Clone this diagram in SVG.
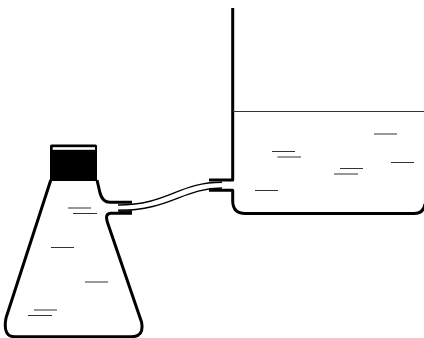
<svg xmlns="http://www.w3.org/2000/svg" width="424" height="338" viewBox="0 0 424 338">
<style>
.g{fill:none;stroke:#000;stroke-width:3;stroke-linejoin:round;stroke-linecap:butt}
.t{fill:none;stroke:#000;stroke-width:1.4}
.h{fill:none;stroke:#111;stroke-width:2.6}
.w{fill:none;stroke:#333;stroke-width:1.1}
</style>
<rect width="424" height="338" fill="#fff"/>
<g id="flask">
<path class="g" d="M50.800 180L6 318Q2.500 336.800 15 336.800L131 336.800Q144.500 336.800 141.500 322L108 224Q104 213.300 111 213.300L132 213.300"/>
<path class="g" d="M97 180L100 193Q102.500 202.300 110 202.300L132 202.300"/>
</g>
<g id="stopper">
<rect x="50" y="144.500" width="47" height="36.500" rx="1.500" fill="#000"/>
<rect x="52.700" y="147.200" width="42.300" height="2.600" fill="#fff"/>
</g>
<g id="beaker">
<path class="g" d="M232.700 8L232.700 180L209 180"/>
<path class="g" d="M209 190.300L232.700 190.300L232.700 201Q233 213.500 245 213.500L414 213.500Q423.500 213.500 425 204"/>
<path class="w" d="M233 111.500H424"/>
</g>
<g id="connectors">
<path class="t" d="M118 205C168 205 178 182.300 222 182.300"/>
<path class="t" d="M118 210.500C170 210.500 183 188 222 188"/>
<path class="h" d="M118.500 210.800H132"/>
</g>
<g id="liquid">
<path class="w" d="M68 208H91M73 213.500H97M51 247.500H74M85 282H108M34 310H57M28 315.500H52"/>
<path class="w" d="M272 151.500H295M277.500 157H301M374 134H397M391 162.500H414M340 168.500H363M334 174H358M255 190.500H278"/>
</g>
</svg>
